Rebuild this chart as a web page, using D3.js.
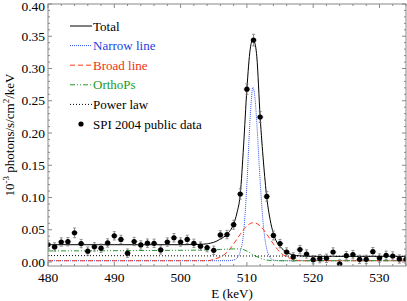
<!DOCTYPE html>
<html lang="en">
<head>
<meta charset="UTF-8">
<title>SPI 511 keV line</title>
<style>
  body { margin: 0; background: #fff; }
  svg text { font-family: "Liberation Serif", "DejaVu Serif", serif; }
</style>
</head>
<body>
<svg width="407" height="301" id="svg"></svg>
<script src="https://d3js.org/d3.v7.min.js"></script>
<script>
// SPI 2004 data points (keV, 1e-3 ph/s/cm2/keV, error)
const energies = [480,481,482,483,484,485,486,487,488,489,490,491,492,493,494,495,496,497,498,499,
  500,501,502,503,504,505,506,507,508,509,510,511,512,513,514,515,516,517,518,519,
  520,521,522,523,524,525,526,527,528,529,530,531,532,533,534]
const fluxes = [0.0270,0.0233,0.0310,0.0315,0.0452,0.0286,0.0168,0.0235,0.0214,0.0295,0.0406,0.0350,0.0137,0.0318,0.0264,0.0292,0.0290,0.0187,0.0310,0.0376,
  0.0310,0.0350,0.0290,0.0246,0.0223,0.0181,0.0420,0.0425,0.0578,0.1054,0.2680,0.3440,0.2248,0.1017,0.0412,0.0285,0.0155,0.0078,0.0192,0.0124,
  0.0036,0.0052,0.0057,0.0155,-0.0030,0.0098,0.0114,0.0041,0.0041,0.0160,0.0062,0.0104,0.0093,0.0047,0.0041]
const errors = [0.0065,0.0065,0.0065,0.0065,0.0075,0.0065,0.0065,0.0065,0.0065,0.0065,0.0065,0.0065,0.0065,0.0065,0.0065,0.0065,0.0065,0.0065,0.0065,0.0065,
  0.0065,0.0065,0.0065,0.0065,0.0065,0.0065,0.0065,0.0065,0.0070,0.0080,0.0085,0.0090,0.0085,0.0075,0.0070,0.0065,0.0065,0.0065,0.0065,0.0065,
  0.0065,0.0065,0.0065,0.0065,0.0065,0.0065,0.0065,0.0065,0.0065,0.0065,0.0065,0.0065,0.0065,0.0065,0.0065]

// model curves
const totalE = [480,490,500,502,503,504,505,506,507,508,508.5,509,509.5,510,510.5,510.9,511.3,511.5,512,512.5,513,513.5,514,514.5,515,516,517,518,519,520,534]
const totalV = [0.0268,0.0268,0.0268,0.0270,0.0274,0.0283,0.0305,0.0355,0.0430,0.0590,0.0760,0.1050,0.1800,0.2680,0.3300,0.3450,0.3350,0.3180,0.2250,0.1550,0.1000,0.0660,0.0440,0.0310,0.0240,0.0150,0.0110,0.0095,0.0090,0.0088,0.0088]
const narrowE = [480,507,508,508.5,509,509.5,510,510.5,510.9,511.3,511.5,512,512.5,513,513.5,514,515,534]
const narrowV = [0.0020,0.0020,0.0030,0.0060,0.0160,0.0450,0.1200,0.2250,0.2710,0.2450,0.2150,0.1250,0.0550,0.0200,0.0070,0.0030,0.0020,0.0020]
const broadE = [480,504,505,506,507,508,509,510,511,512,513,514,515,516,517,518,534]
const broadV = [0.0020,0.0020,0.0040,0.0080,0.0150,0.0280,0.0430,0.0560,0.0610,0.0560,0.0430,0.0280,0.0150,0.0080,0.0040,0.0020,0.0020]
const orthoE = [480,495,503,506,508,509,510,511,512,513,514,516,534]
const orthoV = [0.0172,0.0178,0.0185,0.0195,0.0203,0.0203,0.0170,0.0110,0.0060,0.0030,0.0021,0.0020,0.0020]
const powerE = [480,507,534]
const powerV = [0.0100,0.0094,0.0088]

const xTicks = [480,490,500,510,520,530]
const yTicks = [0.00,0.05,0.10,0.15,0.20,0.25,0.30,0.35,0.40]

const svg = d3.select("svg#svg")
const m = {left: 48, right: 406, top: 4, bottom: 266}
const x = d3.scaleLinear().domain([480, 534]).range([m.left, m.right])
const y = d3.scaleLinear().domain([-0.0062, 0.40]).range([m.bottom, m.top])

svg.append("defs").append("clipPath").attr("id", "clip")
  .append("rect").attr("x", m.left).attr("y", m.top).attr("width", m.right - m.left).attr("height", m.bottom - m.top)

const plot = svg.append("g").attr("clip-path", "url(#clip)")
const line = d3.line().x(d => x(d[0])).y(d => y(d[1])).curve(d3.curveMonotoneX)

const series = [
  {name: "Total", e: totalE, v: totalV, color: "#000", dash: null, w: 1},
  {name: "Narrow line", e: narrowE, v: narrowV, color: "#3355ee", dash: "1,1", w: 1},
  {name: "Broad line", e: broadE, v: broadV, color: "#ff3b1a", dash: "5,3", w: 1},
  {name: "OrthoPs", e: orthoE, v: orthoV, color: "#22992a", dash: "5,2,1,2,1,2", w: 1},
  {name: "Power law", e: powerE, v: powerV, color: "#000", dash: "1,2", w: 1}
]

// draw components first, total on top
series.slice(1).concat(series.slice(0, 1)).forEach(s => {
  plot.append("path")
    .datum(d3.zip(s.e, s.v))
    .attr("d", line)
    .attr("fill", "none")
    .attr("stroke", s.color)
    .attr("stroke-width", s.w)
    .attr("stroke-dasharray", s.dash)
})

// error bars
const pts = d3.zip(energies, fluxes, errors)
const eb = plot.append("g").attr("stroke", "#777").attr("stroke-width", 0.8)
eb.selectAll(".ey").data(pts).join("line")
  .attr("x1", d => x(d[0])).attr("x2", d => x(d[0]))
  .attr("y1", d => y(d[1] - d[2])).attr("y2", d => y(d[1] + d[2]))
eb.selectAll(".ex").data(pts).join("line")
  .attr("x1", d => x(d[0] - 0.5)).attr("x2", d => x(d[0] + 0.5))
  .attr("y1", d => y(d[1])).attr("y2", d => y(d[1]))
eb.selectAll(".capy").data(pts).join("path")
  .attr("fill", "none")
  .attr("d", d => `M${x(d[0]) - 1.5},${y(d[1] - d[2])}h3M${x(d[0]) - 1.5},${y(d[1] + d[2])}h3`)
plot.selectAll(".pt").data(pts).join("circle")
  .attr("cx", d => x(d[0])).attr("cy", d => y(d[1])).attr("r", 2.6).attr("fill", "#000")

// frame + inward ticks
const frame = svg.append("g").attr("stroke", "#888").attr("fill", "none").attr("stroke-width", 1)
frame.append("rect").attr("x", m.left).attr("y", m.top).attr("width", m.right - m.left).attr("height", m.bottom - m.top)
d3.range(480, 535, 2).forEach(k => {
  const len = k % 10 === 0 ? 4 : 2
  frame.append("line").attr("x1", x(k)).attr("x2", x(k)).attr("y1", m.bottom).attr("y2", m.bottom - len)
  frame.append("line").attr("x1", x(k)).attr("x2", x(k)).attr("y1", m.top).attr("y2", m.top + len)
})
d3.range(0, 41).forEach(k => {
  const v = k / 100, len = k % 5 === 0 ? 4 : 2
  frame.append("line").attr("x1", m.left).attr("x2", m.left + len).attr("y1", y(v)).attr("y2", y(v))
  frame.append("line").attr("x1", m.right).attr("x2", m.right - len).attr("y1", y(v)).attr("y2", y(v))
})

// tick labels (top one nudged down so it is not cut by the page edge)
svg.append("g").selectAll("text").data(yTicks).join("text")
  .attr("x", m.left - 3).attr("y", d => Math.max(y(d) + 4.5, 10.5))
  .attr("text-anchor", "end").attr("font-size", 13.5)
  .text(d => d3.format(".2f")(d))
svg.append("g").selectAll("text").data(xTicks).join("text")
  .attr("x", d => x(d)).attr("y", 282)
  .attr("text-anchor", "middle").attr("font-size", 13.5)
  .text(d => d)

svg.append("text").attr("x", (m.left + m.right) / 2 + 5).attr("y", 298)
  .attr("text-anchor", "middle").attr("font-size", 13).text("E (keV)")

const yt = svg.append("text").attr("transform", `translate(14,${(m.top + m.bottom) / 2}) rotate(-90)`)
  .attr("text-anchor", "middle").attr("font-size", 13)
yt.append("tspan").text("10")
yt.append("tspan").attr("dy", -5).attr("font-size", 9).text("-3")
yt.append("tspan").attr("dy", 5).text(" photons/s/cm")
yt.append("tspan").attr("dy", -5).attr("font-size", 9).text("2")
yt.append("tspan").attr("dy", 5).text("/keV")

// legend
const legend = svg.append("g")
const textColors = ["#000", "#2244dd", "#ee3311", "#229922", "#000"]
series.forEach((s, i) => {
  const ly = 26 + i * 19.6
  legend.append("line").attr("x1", 70).attr("x2", 92).attr("y1", ly).attr("y2", ly)
    .attr("stroke", s.color).attr("stroke-width", s.w).attr("stroke-dasharray", s.dash)
  legend.append("text").attr("x", 93).attr("y", ly + 4.5).attr("font-size", 13)
    .attr("fill", textColors[i]).text(s.name)
})
legend.append("circle").attr("cx", 81).attr("cy", 26 + 5 * 19.6).attr("r", 2.6).attr("fill", "#000")
legend.append("text").attr("x", 93).attr("y", 26 + 5 * 19.6 + 4.5).attr("font-size", 13).text("SPI 2004 public data")
</script>
</body>
</html>
